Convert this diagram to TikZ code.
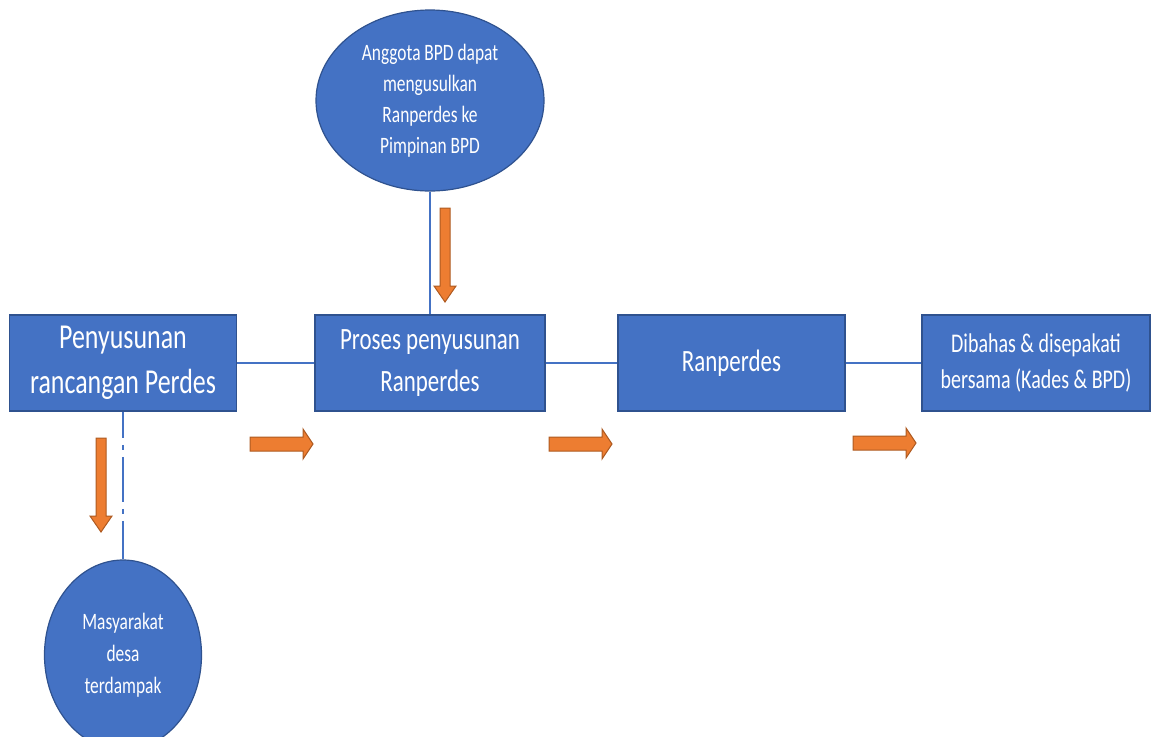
\documentclass[tikz,border=0pt]{standalone}
\usepackage{fontspec}
\setmainfont{Carlito}[FakeStretch=0.74]
\usetikzlibrary{shapes.geometric}
\definecolor{boxblue}{RGB}{68,114,196}
\definecolor{boxedge}{RGB}{47,82,143}
\definecolor{arroworange}{RGB}{237,125,49}
\definecolor{arrowedge}{RGB}{174,90,33}
\tikzset{
  block/.style={draw=boxedge, line width=1.5pt, fill=boxblue, text=white,
    minimum height=96pt, inner sep=0pt, align=center},
  bubble/.style={ellipse, draw=boxedge, line width=1.2pt, fill=boxblue,
    text=white, inner sep=0pt, align=center},
  link/.style={draw=boxblue, line width=2.8pt},
  fatarrow/.style={fill=arroworange, draw=arrowedge, line width=1pt},
}

\begin{document}
\begin{tikzpicture}[x=1pt,y=-1pt]
    \useasboundingbox (0,0) rectangle (1153,736);
    \node[block, minimum width=227pt, font=\fontsize{35}{45}\selectfont] (draft) at (123,363) {Penyusunan\\rancangan Perdes};
    \node[block, minimum width=230pt, font=\fontsize{31}{42}\selectfont] (proses) at (430,363) {Proses penyusunan\\Ranperdes};
    \node[block, minimum width=227pt, font=\fontsize{31}{40}\selectfont] (ranperdes) at (731.5,363) {Ranperdes};
    \node[block, minimum width=228pt, font=\fontsize{27}{36}\selectfont] (bahas) at (1036,363) {Dibahas \& disepakati\\bersama (Kades \& BPD)};
    \node[bubble, minimum width=228pt, minimum height=181pt, font=\fontsize{23.5}{31}\selectfont] (anggota) at (430,100.5) {Anggota BPD dapat\\mengusulkan\\Ranperdes ke\\Pimpinan BPD};
    \node[bubble, minimum width=157pt, minimum height=190pt, font=\fontsize{23.5}{32}\selectfont] (warga) at (123,655) {Masyarakat\\desa\\terdampak};
    \draw[link] (draft) -- (proses);
    \draw[link] (proses) -- (ranperdes);
    \draw[link] (ranperdes) -- (bahas);
    \draw[link] (anggota) -- (proses);
    \draw[link, line width=2.2pt, dash pattern=on 45pt off 7pt on 5pt off 7pt, dash phase=19pt] (draft) -- (warga);
    % block arrows
    \foreach \x/\y in {250/444, 549/444, 853/443}
      \filldraw[fatarrow] (\x,\y-7) -- ++(53,0) -- ++(0,-8) -- ++(10,15) -- ++(-10,15) -- ++(0,-8) -- ++(-53,0) -- cycle;
    \foreach \x/\y/\l in {445/208/94, 101/438/94}
      \filldraw[fatarrow] (\x-5,\y) -- ++(0,{\l-16}) -- ++(-6,0) -- ++(11,16) -- ++(11,-16) -- ++(-6,0) -- ++(0,{16-\l}) -- cycle;
\end{tikzpicture}
\end{document}
